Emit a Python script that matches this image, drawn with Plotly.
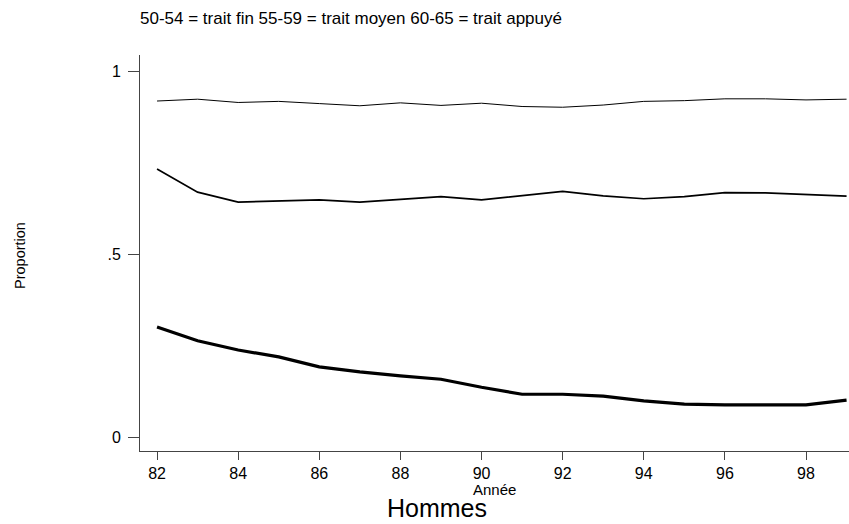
import plotly.graph_objects as go

# Year (two digits) and proportion of men by age group
annees = list(range(82, 100))
age_50_54 = [0.918, 0.923, 0.914, 0.917, 0.911, 0.905, 0.913, 0.906, 0.912,
             0.903, 0.901, 0.907, 0.917, 0.919, 0.924, 0.924, 0.921, 0.923]
age_55_59 = [0.732, 0.669, 0.642, 0.645, 0.648, 0.642, 0.649, 0.657, 0.648,
             0.659, 0.671, 0.659, 0.651, 0.657, 0.668, 0.667, 0.663, 0.658]
age_60_65 = [0.301, 0.263, 0.238, 0.219, 0.192, 0.178, 0.167, 0.158, 0.136,
             0.117, 0.117, 0.112, 0.099, 0.090, 0.088, 0.087, 0.088, 0.101]

x_ticks = [82, 84, 86, 88, 90, 92, 94, 96, 98]
y_ticks = [0, 0.5, 1]
y_labels = ["0", ".5", "1"]

FONT = "Liberation Sans, Arial, sans-serif"

# plot area in pixels
L, T, R, B = 140, 55, 849, 451
W, H = R - L, B - T

fig = go.Figure()
for serie, largeur, nom in [(age_50_54, 1.0, "50-54"),
                            (age_55_59, 1.7, "55-59"),
                            (age_60_65, 3.2, "60-65")]:
    fig.add_trace(go.Scatter(x=annees, y=serie, mode="lines", name=nom,
                             line=dict(color="black", width=largeur),
                             showlegend=False))

fig.update_layout(
    width=849, height=524,
    margin=dict(l=L, r=849 - R, t=T, b=524 - B),
    paper_bgcolor="white", plot_bgcolor="white",
    font=dict(family=FONT, color="black", size=16),
    xaxis=dict(range=[81.58, 99.06], tickvals=x_ticks,
               ticks="outside", ticklen=8, tickcolor="#444", tickwidth=1,
               showline=True, linecolor="#444", linewidth=1,
               showgrid=False, zeroline=False,
               tickfont=dict(size=16)),
    yaxis=dict(range=[-0.038, 1.0437], tickvals=y_ticks, ticktext=y_labels,
               ticks="outside", ticklen=11, tickcolor="#444", tickwidth=1,
               showline=True, linecolor="#444", linewidth=1,
               showgrid=False, zeroline=False, ticklabelstandoff=4,
               tickfont=dict(size=16)),
    annotations=[
        dict(text="50-54 = trait fin 55-59 = trait moyen 60-65 = trait appuyé",
             xref="paper", yref="paper", x=(138 - L) / W, y=1 + (T - 18) / H,
             xanchor="left", yanchor="middle", showarrow=False,
             font=dict(size=17)),
        dict(text="Proportion", xref="paper", yref="paper",
             x=(20 - L) / W, y=(B - 256) / H, textangle=-90,
             xanchor="center", yanchor="middle", showarrow=False,
             font=dict(size=14.5)),
        dict(text="Année", xref="paper", yref="paper",
             x=(494 - L) / W, y=-(489 - B) / H,
             xanchor="center", yanchor="middle", showarrow=False,
             font=dict(size=15)),
        dict(text="Hommes", xref="paper", yref="paper",
             x=(437 - L) / W, y=-(508 - B) / H,
             xanchor="center", yanchor="middle", showarrow=False,
             font=dict(size=25)),
    ],
)

fig.write_html("out.html")
